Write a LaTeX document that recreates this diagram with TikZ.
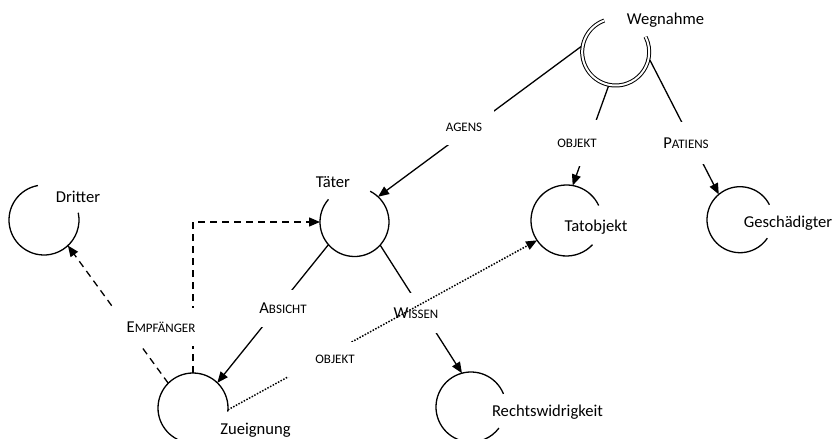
\documentclass[tikz,border=0pt]{standalone}
\usepackage{fontspec}
\setmainfont{Carlito}
\usetikzlibrary{arrows.meta}
\newcommand\lab[2]{{\fontsize{16.6}{20}\selectfont #1}{\fontsize{13}{15}\selectfont #2}}
\begin{document}
\begin{tikzpicture}[x=1pt,y=1pt,
  ring/.style={circle,minimum size=#1,inner sep=0pt,outer sep=0pt},
  rim/.style={line width=1.3pt},
  dbl/.style={line width=1pt,double=white,double distance=2pt},
  conn/.style={line width=1.3pt,-{Triangle[length=11pt,width=9pt]}},
  dsh/.style={conn,dash pattern=on 7pt off 5pt},
  dtt/.style={conn,line width=1.5pt,dash pattern=on 1.5pt off 1.5pt},
  nlab/.style={font=\fontsize{16.6}{20}\selectfont,inner sep=0pt},
  elab/.style={fill=white,inner sep=0pt}]
\useasboundingbox (0,0) rectangle (838,-439);
\clip (0,0) rectangle (838,-439);

% ring nodes
\node[ring=70pt] (W) at (615.7,-52) {};
\node[ring=70pt] (D) at (44,-220) {};
\node[ring=69pt] (T) at (354.5,-222) {};
\node[ring=71pt] (O) at (566.5,-220.5) {};
\node[ring=66pt] (G) at (740,-219.7) {};
\node[ring=70pt] (Z) at (193,-408) {};
\node[ring=70pt] (R) at (471,-407) {};

% open circles
\draw[dbl] ([shift={(110:33.5pt)}]W.center) arc[start angle=110,end angle=387,radius=33.5pt];
\draw[rim] ([shift={(100:35pt)}]D.center) arc[start angle=100,end angle=372,radius=35pt];
\draw[rim] ([shift={(139:34.5pt)}]T.center) arc[start angle=139,end angle=423,radius=34.5pt];
\draw[rim] ([shift={(25:35.5pt)}]O.center) arc[start angle=25,end angle=317,radius=35.5pt];
\draw[rim] ([shift={(27:33pt)}]G.center) arc[start angle=27,end angle=326,radius=33pt];
\draw[rim] ([shift={(-6:35pt)}]Z.center) arc[start angle=-6,end angle=260,radius=35pt];
\draw[rim] ([shift={(22:35pt)}]R.center) arc[start angle=22,end angle=323,radius=35pt];

% names
\node[nlab] (tW) at (665.5,-20) {Wegnahme};
\node[nlab] (tD) at (78,-197) {Dritter};
\node[nlab] (tT) at (333,-182) {Täter};
\node[nlab] (tO) at (596,-227) {Tatobjekt};
\node[nlab] (tG) at (788,-223) {Geschädigter};
\node[nlab] (tZ) at (255.5,-430) {Zueignung};
\node[nlab] (tR) at (547.5,-412) {Rechtswidrigkeit};

% solid connectors
\draw[conn] (W.171) -- (T.47);
\draw[conn] (W.258) -- (O.80);
\draw[conn] (W.347) -- (G.130);
\draw[conn] (T.221) -- (Z.46);
\draw[conn] (T.318) -- (R.105);
\node[elab,minimum width=60pt,minimum height=36pt] (lAg) at (464,-127) {\lab{}{AGENS}};
\node[elab,minimum width=44pt,minimum height=46pt] (lOb) at (577,-143) {\lab{}{OBJEKT}};
\node[elab,minimum width=56pt,minimum height=42pt] (lPa) at (686,-143) {\lab{P}{ATIENS}};
\node[elab,minimum width=52pt,minimum height=37pt] (lAb) at (283,-308) {\lab{A}{BSICHT}};
\node[elab,minimum width=46pt,minimum height=40pt] (lWi) at (416,-313) {\lab{W}{ISSEN}};

% dashed connectors
\draw[dsh] (Z.135) -- (D.-47);
\draw[dsh] (Z.90) |- (T.180);
\node[elab,minimum width=106pt,minimum height=38pt] (lEm) at (161,-327) {\lab{E}{MPFÄNGER}};

% dotted connector
\draw[dtt] (Z.-3) -- (O.214);
\node[elab,minimum width=94pt,minimum height=35pt] (lOb2) at (335,-359) {\lab{}{OBJEKT}};
\end{tikzpicture}
\end{document}
